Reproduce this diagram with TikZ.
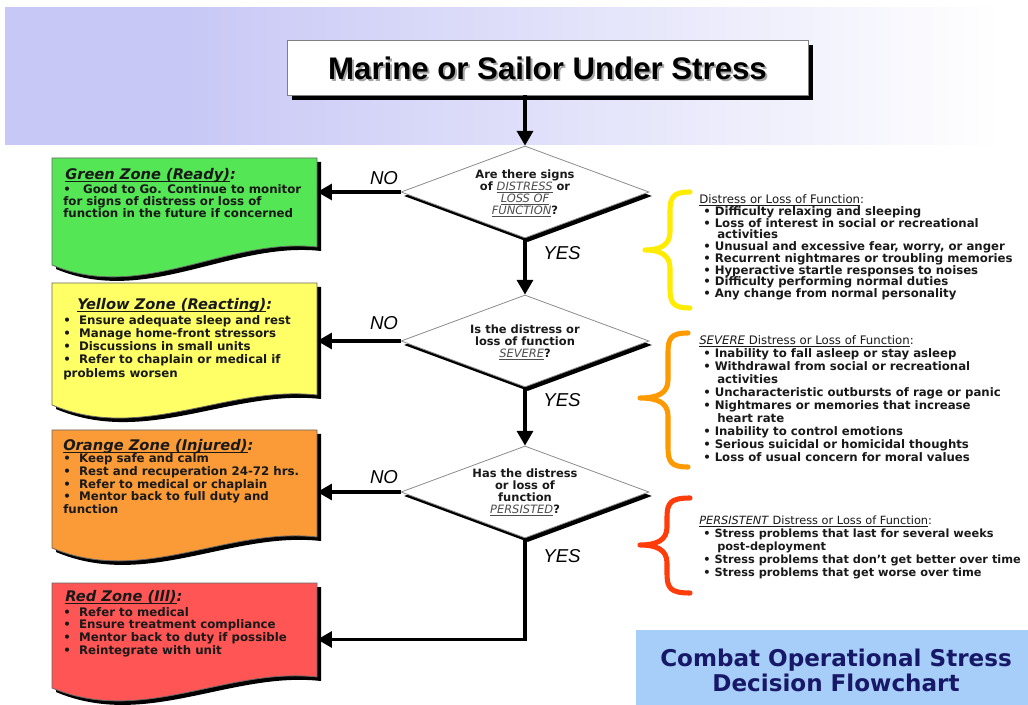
\documentclass[tikz,border=0pt]{standalone}
\usepackage{fontspec}
\setmainfont{DejaVu Sans}
\newfontfamily\libsans{Liberation Sans}
\usetikzlibrary{arrows.meta,shapes.geometric,fit,shadows}
\definecolor{bandc}{RGB}{200,200,246}
\definecolor{zgreen}{RGB}{85,230,85}
\definecolor{zyellow}{RGB}{255,255,102}
\definecolor{zorange}{RGB}{250,155,55}
\definecolor{zred}{RGB}{255,85,85}
\definecolor{byellow}{RGB}{255,236,0}
\definecolor{borange}{RGB}{255,153,0}
\definecolor{bred}{RGB}{255,60,10}
\definecolor{coblue}{RGB}{166,206,248}
\definecolor{navy}{RGB}{24,24,105}
\pgfdeclarehorizontalshading{bandshade}{100bp}{color(0bp)=(bandc); color(25bp)=(bandc); color(34bp)=(bandc); color(75bp)=(white); color(100bp)=(white)}
\newsavebox\zubox
\newcommand\zu[1]{\sbox\zubox{#1}\rlap{\rule[-0.17em]{\wd\zubox}{0.065em}}\usebox\zubox}
\newcommand\zb{\textbullet\hspace{0.7em}}
\newcommand\rb{\hspace*{3pt}\textbullet\hspace{3pt}}
\newcommand\rc{\hspace*{13.5pt}}
\newcommand\dit[1]{{\mdseries\itshape\color{black!70}\zu{#1}}}
\newcommand\zone[6]{%
  \fill[black, shift={(4,4)}] (#1,#2) -- (#3,#2) -- (#3,#5) .. controls ({#3-90},{#5-10}) and ({#1+90},{#4+38}) .. (#1,#4) -- cycle;
  \filldraw[draw=black!60, line width=0.6pt, fill=#6] (#1,#2) -- (#3,#2) -- (#3,#5) .. controls ({#3-90},{#5-10}) and ({#1+90},{#4+38}) .. (#1,#4) -- cycle;}
\newcommand\zbrace[7]{%
  \draw[bracestyle, draw=#7] (#6,#1) .. controls ({#5+3},#1) and (#5,{#1+5}) .. (#5,{#1+20}) -- (#5,{#3-18}) .. controls (#5,{#3-5}) and ({#5-10},#3) .. (#4,#3) .. controls ({#5-10},#3) and (#5,{#3+5}) .. (#5,{#3+18}) -- (#5,{#2-20}) .. controls (#5,{#2-5}) and ({#5+3},#2) .. (#6,#2);}
\begin{document}
\begin{tikzpicture}[x=0.75pt,y=-0.75pt,
  arr/.style={line width=2.3pt, -{Triangle[length=11pt,width=12pt]}},
  dia/.style={diamond, draw=black!45, line width=0.6pt, fill=white, minimum width=186pt, minimum height=69pt, inner sep=0pt,
    drop shadow={shadow xshift=2.2pt, shadow yshift=-3pt, opacity=1, fill=black}},
  dtext/.style={font=\bfseries\fontsize{8.6}{9}\selectfont, align=center, inner sep=0pt, text=black!90},
  yn/.style={font=\libsans\itshape\fontsize{14}{16}\selectfont, inner sep=0pt},
  ztitle/.style={font=\bfseries\itshape\fontsize{11}{12}\selectfont, anchor=north west, inner sep=0pt, text=black!90},
  zbody/.style={font=\bfseries\fontsize{8.85}{9.5}\selectfont, align=left, anchor=north west, inner sep=0pt, text=black!90},
  rtext/.style={font=\bfseries\fontsize{8.8}{9.75}\selectfont, align=left, anchor=north west, inner sep=0pt, text=black!90},
  bracestyle/.style={line width=3.8pt, line cap=round, line join=round},
  area/.style={inner sep=0pt, draw=none}
]
\useasboundingbox (0,0) rectangle (1028,705);
\fill[white] (0,0) rectangle (1028,705);
% top band
\shade[shading=bandshade] (5,8) rectangle (1000,145);
% title
\node[draw=black!50, line width=0.6pt, fill=white, minimum width=390.75pt, minimum height=41.25pt, inner sep=0pt,
  drop shadow={shadow xshift=3.5pt, shadow yshift=-3.5pt, opacity=1, fill=black}] (title) at (547.5,67.5) {};
\node[font=\libsans\bfseries\fontsize{23.4}{26}\selectfont, text=black!35, inner sep=0pt] (titleS) at (549.5,70.5) {Marine or Sailor Under Stress};
\node[font=\libsans\bfseries\fontsize{23.4}{26}\selectfont, inner sep=0pt] (titleT) at (547.5,68.5) {Marine or Sailor Under Stress};
% diamonds
\node[dia] (d1) at (525,192) {};
\node[dia] (d2) at (525,341) {};
\node[dia] (d3) at (525,492) {};
\node[dtext] (t1) at (525,193.5) {Are there signs\\of \dit{DISTRESS} or\\\dit{LOSS OF}\\\dit{FUNCTION}?};
\node[dtext] (t2) at (525,342) {Is the distress or\\loss of function\\\dit{SEVERE}?};
\node[dtext] (t3) at (525,492) {Has the distress\\or loss of\\function\\\dit{PERSISTED}?};
% zones
\zone{52}{158}{317}{265}{247}{zgreen}
\zone{52}{283}{317}{405}{395}{zyellow}
\zone{52}{430}{317}{548}{537}{zorange}
\zone{52}{583}{317}{688}{677}{zred}
\node[area, fit={(52,158) (317,265)}] (green) {};
\node[area, fit={(52,283) (317,405)}] (yellow) {};
\node[area, fit={(52,430) (317,548)}] (orange) {};
\node[area, fit={(52,583) (317,688)}] (red) {};
\node[ztitle] (gT) at (65,168.5) {\zu{Green Zone (Ready)}:};
\node[zbody, font=\bfseries\fontsize{8.85}{9}\selectfont] (gB) at (63,184) {\textbullet\hspace{1.05em}Good to Go. Continue to monitor\\for signs of distress or loss of\\function in the future if concerned};
\node[ztitle] (yT) at (77,298.5) {\zu{Yellow Zone (Reacting)}:};
\node[zbody, font=\bfseries\fontsize{8.85}{9.9}\selectfont] (yB) at (63,315) {\zb Ensure adequate sleep and rest\\\zb Manage home-front stressors\\\zb Discussions in small units\\\zb Refer to chaplain or medical if\\problems worsen};
\node[ztitle] (oT) at (63,439.5) {\zu{Orange Zone (Injured)}:};
\node[zbody] (oB) at (63,453.5) {\zb Keep safe and calm\\\zb Rest and recuperation 24-72 hrs.\\\zb Refer to medical or chaplain\\\zb Mentor back to full duty and\\function};
\node[ztitle] (rT) at (65,590.5) {\zu{Red Zone (Ill)}:};
\node[zbody] (rB) at (63,607) {\zb Refer to medical\\\zb Ensure treatment compliance\\\zb Mentor back to duty if possible\\\zb Reintegrate with unit};
% connectors
\draw[arr] (title.south -| d1.north) -- (d1.north);
\draw[arr] (d1.south) -- (d2.north);
\draw[arr] (d2.south) -- (d3.north);
\draw[arr] (d1.west) -- (d1.west -| green.east);
\draw[arr] (d2.west) -- (d2.west -| yellow.east);
\draw[arr] (d3.west) -- (d3.west -| orange.east);
\draw[arr] (d3.south) |- ([yshift=-3pt]red.east);
% labels
\node[yn] (no1) at (384,178) {NO};
\node[yn] (no2) at (384,323) {NO};
\node[yn] (no3) at (384,477) {NO};
\node[yn] (yes1) at (562,253) {YES};
\node[yn] (yes2) at (562,400) {YES};
\node[yn] (yes3) at (562,556) {YES};
% braces
\zbrace{192}{308}{250}{645}{670}{690}{byellow}
\zbrace{333}{467}{398}{640}{668}{688}{borange}
\zbrace{498}{593}{545}{640}{667}{690}{bred}
% right texts
\node[rtext, font=\bfseries\fontsize{8.8}{8.8}\selectfont] (s1) at (699,194.5) {{\mdseries\zu{Distress or Loss of Function}:}\\
\rb Difficulty relaxing and sleeping\\
\rb Loss of interest in social or recreational\\
\rc activities\\
\rb Unusual and excessive fear, worry, or anger\\
\rb Recurrent nightmares or troubling memories\\
\rb Hyperactive startle responses to noises\\
\rb Difficulty performing normal duties\\
\rb Any change from normal personality};
\node[rtext] (s2) at (699,335.5) {{\mdseries\zu{\textit{SEVERE} Distress or Loss of Function}:}\\
\rb Inability to fall asleep or stay asleep\\
\rb Withdrawal from social or recreational\\
\rc activities\\
\rb Uncharacteristic outbursts of rage or panic\\
\rb Nightmares or memories that increase\\
\rc heart rate\\
\rb Inability to control emotions\\
\rb Serious suicidal or homicidal thoughts\\
\rb Loss of usual concern for moral values};
\node[rtext, font=\bfseries\fontsize{8.5}{9.75}\selectfont] (s3) at (699,515.5) {{\mdseries\zu{\textit{PERSISTENT} Distress or Loss of Function}:}\\
\rb Stress problems that last for several weeks\\
\rc post-deployment\\
\rb Stress problems that don’t get better over time\\
\rb Stress problems that get worse over time};
% bottom box
\node[fill=coblue, minimum width=294pt, minimum height=56.25pt, anchor=north west, inner sep=0pt] (cobox) at (636,630) {};
\node[font=\bfseries\fontsize{17.3}{18.75}\selectfont, text=navy, align=center, inner sep=0pt] (cotext) at (836,670.5) {Combat Operational Stress\\Decision Flowchart};
\end{tikzpicture}
\end{document}
